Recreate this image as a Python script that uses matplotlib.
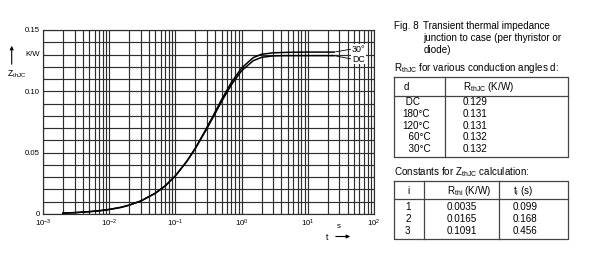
import matplotlib.pyplot as plt
from matplotlib.ticker import LogLocator, MultipleLocator, NullFormatter

plt.rcParams['font.family'] = ['Liberation Sans', 'DejaVu Sans']
plt.rcParams['mathtext.fontset'] = 'custom'
plt.rcParams['mathtext.rm'] = 'Liberation Sans'
plt.rcParams['mathtext.it'] = 'Liberation Sans'

# Z_thJC (K/W)
t = [0.002, 0.003, 0.005, 0.007, 0.01, 0.015, 0.02, 0.03, 0.05, 0.07, 0.1,
     0.15, 0.2, 0.3, 0.4, 0.5, 0.7, 1.0, 1.5, 2.0, 3.0, 5.0, 10.0, 25.0]
z_dc = [0.0007, 0.0011, 0.0019, 0.0026, 0.0037, 0.0054, 0.0072, 0.0106, 0.0170,
        0.0229, 0.0311, 0.0431, 0.0533, 0.0697, 0.0821, 0.0918, 0.1053, 0.1168,
        0.1250, 0.1277, 0.1289, 0.1291, 0.1291, 0.1291]
z_30 = [0.0007, 0.0011, 0.0019, 0.0026, 0.0037, 0.0054, 0.0072, 0.0106, 0.0170,
        0.0229, 0.0311, 0.0433, 0.0537, 0.0706, 0.0834, 0.0934, 0.1072, 0.1190,
        0.1275, 0.1302, 0.1314, 0.1318, 0.1320, 0.1320]

x_ticks = [1e-3, 1e-2, 1e-1, 1e0, 1e1, 1e2]
x_labels = ['$\\mathregular{10^{-3}}$', '$\\mathregular{10^{-2}}$', '$\\mathregular{10^{-1}}$',
            '$\\mathregular{10^{0}}$', '$\\mathregular{10^{1}}$', '$\\mathregular{10^{2}}$']
y_ticks = [0, 0.05, 0.10, 0.15]
y_labels = ['0', '0.05', '0.10', '0.15']

# tables
angles = [' DC', '180°C', '120°C', '  60°C', '  30°C']
rth_jc = [0.129, 0.131, 0.131, 0.132, 0.132]
idx = ['1', '2', '3']
rth_i = [0.0035, 0.0165, 0.1091]
tau_i = [0.099, 0.168, 0.456]

fig = plt.figure(figsize=(6, 2.59), dpi=100)
ax = fig.add_axes([43/600, 1-214/259, 331/600, 184/259])

gc = '#2e2e2e'
ax.plot(t, z_dc, color='black', lw=1.1, zorder=3)
ax.plot(t, z_30, color='black', lw=1.1, zorder=3)

ax.set_xscale('log')
ax.set_xlim(1e-3, 1e2)
ax.set_ylim(0, 0.15)
ax.set_xticks(x_ticks)
ax.set_xticklabels(x_labels)
ax.xaxis.set_minor_locator(LogLocator(base=10, subs=range(2, 10)))
ax.xaxis.set_minor_formatter(NullFormatter())
ax.set_yticks(y_ticks)
ax.set_yticklabels(y_labels)
ax.yaxis.set_minor_locator(MultipleLocator(0.01))
ax.grid(True, which='both', color=gc, lw=0.85)
ax.tick_params(which='both', length=0, labelsize=5.6)
ax.tick_params(axis='y', pad=2.2)
ax.tick_params(axis='x', pad=3)
for s in ax.spines.values():
    s.set_color(gc)
    s.set_linewidth(0.85)

ax.text(-0.01, 0.13, 'K/W', transform=ax.get_yaxis_transform(),
        ha='right', va='center', fontsize=5.6)

lbl = dict(fontsize=6.4, ha='left', va='center',
           bbox=dict(fc='white', ec='none', pad=0.6))
arr = dict(arrowstyle='-', lw=0.6, color='black', shrinkA=0, shrinkB=1, relpos=(0, 0.5))
ax.annotate('30°', xy=(t[-1], z_30[-1]), xytext=(46.5, 0.1345), arrowprops=arr, **lbl)
ax.annotate('DC', xy=(t[-1], z_dc[-1]), xytext=(46.5, 0.1263), arrowprops=arr, **lbl)

# overlay in pixel coordinates for labels and tables
ov = fig.add_axes([0, 0, 1, 1])
ov.set_xlim(0, 600)
ov.set_ylim(259, 0)
ov.axis('off')
ov.patch.set_alpha(0)

ov.text(7, 74, '$\\mathregular{Z_{thJC}}$', fontsize=6.2, ha='left', va='center')
ov.annotate('', xy=(11.7, 43), xytext=(11.7, 67),
            arrowprops=dict(arrowstyle='-|>', lw=0.8, color='black', mutation_scale=5))
ov.text(339, 227, 's', fontsize=5.8, ha='center', va='center')
ov.text(327, 237.5, 't', fontsize=6.2, ha='center', va='center')
ov.annotate('', xy=(353, 236.5), xytext=(333, 236.5),
            arrowprops=dict(arrowstyle='-|>', lw=0.8, color='black', mutation_scale=5))

fs = 7.1
ov.text(394, 26, 'Fig. 8', fontsize=fs, va='center')
ov.text(423.3, 26, 'Transient thermal impedance', fontsize=fs, va='center')
ov.text(423.3, 38.3, 'junction to case (per thyristor or', fontsize=fs, va='center')
ov.text(423.3, 50.3, 'diode)', fontsize=fs, va='center')
ov.text(394, 68.3, '$\\mathregular{R_{thJC}}$ for various conduction angles d:', fontsize=fs, va='center')

tc = '#444444'
tw = 0.9


def box(x0, x1, y0, y1, hline, vlines):
    ov.plot([x0, x1, x1, x0, x0], [y0, y0, y1, y1, y0], color=tc, lw=tw)
    ov.plot([x0, x1], [hline, hline], color=tc, lw=tw)
    for v in vlines:
        ov.plot([v, v], [y0, y1], color=tc, lw=tw)


box(394, 568, 77.3, 157.3, 95.7, [445])
ov.text(403.3, 86.7, 'd', fontsize=fs, va='center')
ov.text(462.7, 86.7, '$\\mathregular{R_{thJC}}$ (K/W)', fontsize=fs, va='center')
for k, (a, r) in enumerate(zip(angles, rth_jc)):
    y = 102.3 + k * 11.7
    ov.text(402.7, y, a, fontsize=fs, va='center')
    ov.text(462.7, y, f'{r:.3f}', fontsize=fs, va='center')

ov.text(394, 172.3, 'Constants for $\\mathregular{Z_{thJC}}$ calculation:', fontsize=fs, va='center')
box(394, 568, 181, 239, 199.3, [423.7, 498.7])
ov.text(408, 190.7, 'i', fontsize=fs, ha='center', va='center')
ov.text(446.7, 190.7, '$\\mathregular{R_{thi}}$ (K/W)', fontsize=fs, va='center')
ov.text(512.7, 190.7, '$\\mathregular{t_{i}}$ (s)', fontsize=fs, va='center')
for k, (i, r, ti) in enumerate(zip(idx, rth_i, tau_i)):
    y = 207.3 + k * 11.7
    ov.text(405, y, i, fontsize=fs, va='center')
    ov.text(446.7, y, f'{r:.4f}', fontsize=fs, va='center')
    ov.text(512.7, y, f'{ti:.3f}', fontsize=fs, va='center')

fig.savefig('out.png', dpi=100)
